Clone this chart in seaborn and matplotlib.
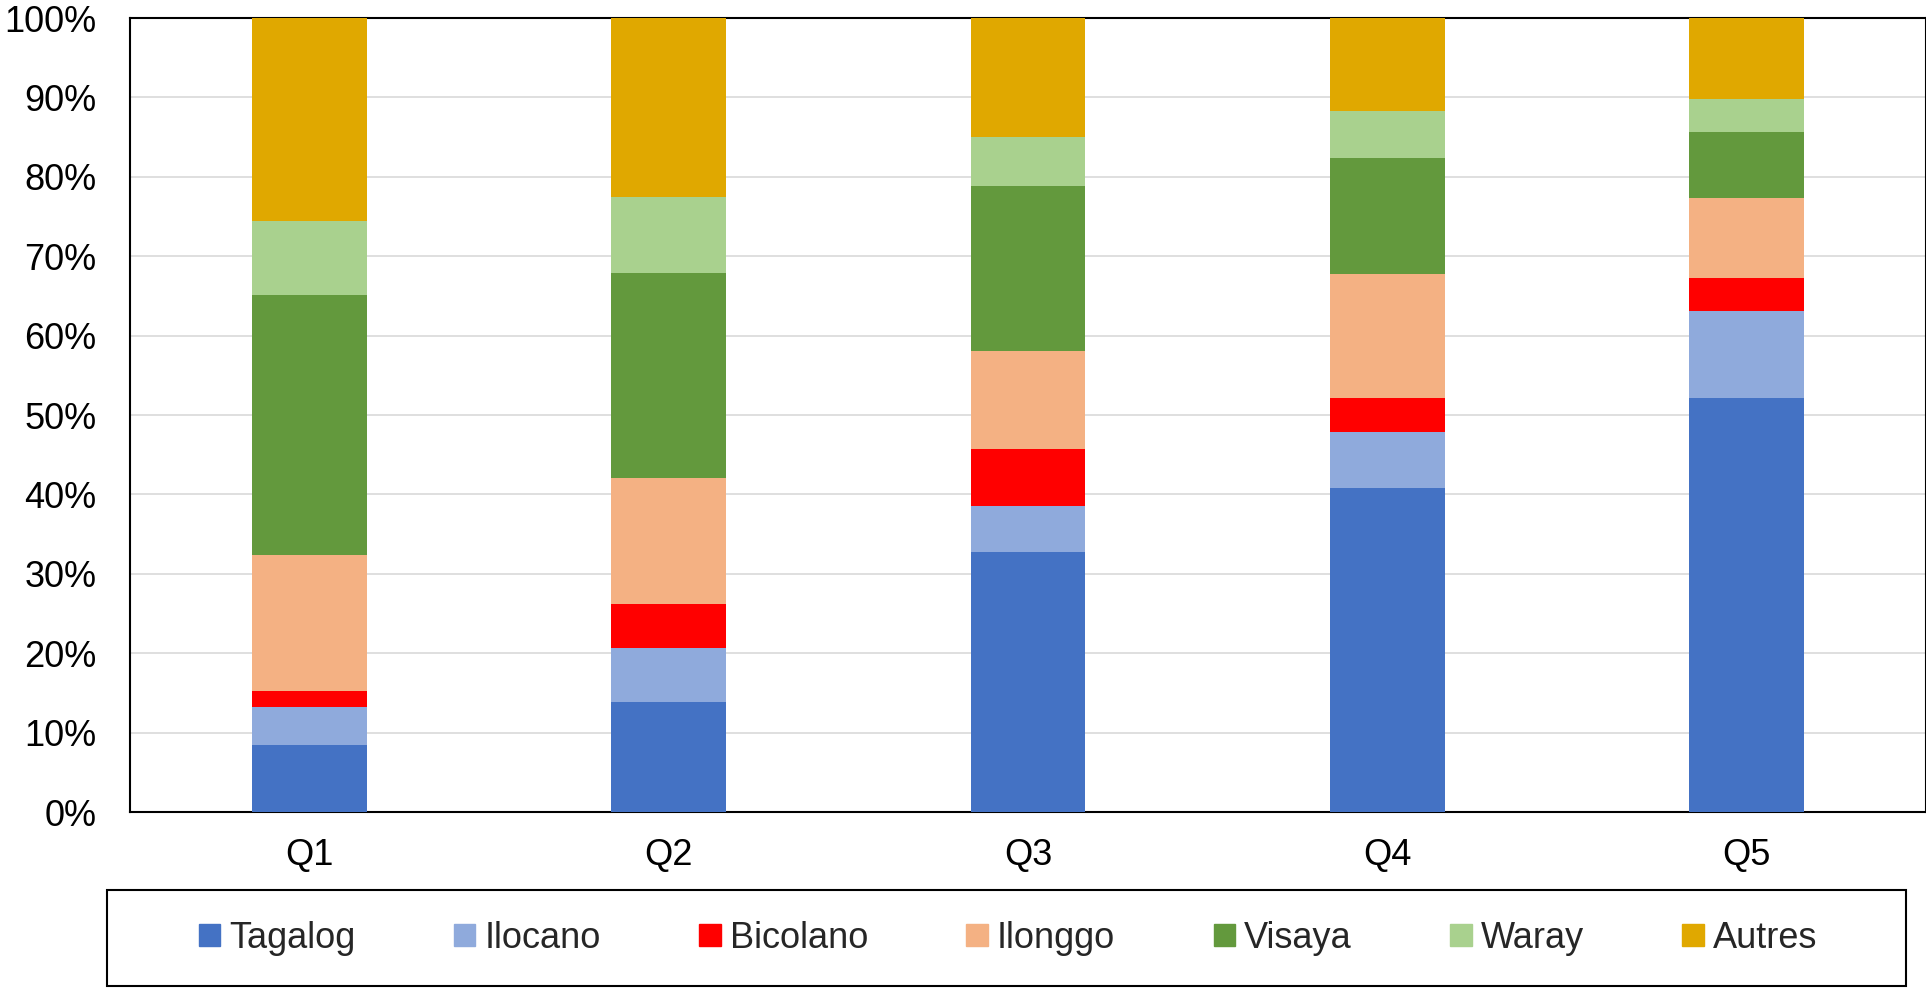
import matplotlib
matplotlib.use('Agg')
import matplotlib.pyplot as plt
import matplotlib.patches as mpatches
import numpy as np
import pandas as pd
import seaborn as sns

# data (percent of each quintile)
quintiles = ['Q1', 'Q2', 'Q3', 'Q4', 'Q5']
tagalog = [8.5, 13.8, 32.7, 40.8, 52.2]
ilocano = [4.7, 6.9, 5.8, 7.0, 10.9]
bicolano = [2.1, 5.5, 7.2, 4.4, 4.2]
ilonggo = [17.1, 15.9, 12.4, 15.5, 10.0]
visaya = [32.7, 25.8, 20.7, 14.7, 8.3]
waray = [9.3, 9.5, 6.2, 5.9, 4.2]
autres = [25.6, 22.6, 15.0, 11.7, 10.2]

series_names = ['Tagalog', 'Ilocano', 'Bicolano', 'Ilonggo', 'Visaya', 'Waray', 'Autres']
series_values = [tagalog, ilocano, bicolano, ilonggo, visaya, waray, autres]
colors = ['#4472c4', '#8faadc', '#ff0000', '#f4b183', '#63993d', '#a9d18e', '#e0a800']

sns.set_style('white')
plt.rcParams['font.family'] = ['Liberation Sans', 'DejaVu Sans']

W, H = 1926, 988
fig = plt.figure(figsize=(W / 100, H / 100), dpi=100)
ax = fig.add_axes([130 / W, 176 / H, 1796 / W, 794 / H])

bottom = np.zeros(len(quintiles))
for name, vals, col in zip(series_names, series_values, colors):
    df = pd.DataFrame({'q': quintiles, 'v': np.array(vals) / 100})
    sns.barplot(data=df, x='q', y='v', bottom=bottom, color=col, width=0.32,
                saturation=1, ax=ax, zorder=3, edgecolor='none')
    bottom = bottom + df['v'].values

ticks = np.arange(0, 1.01, 0.1)
ax.set_xlim(-0.5, 4.5)
ax.set_ylim(0, 1)
ax.set_yticks(ticks)
ax.set_yticklabels([f'{int(round(t * 100))}%' for t in ticks])
ax.yaxis.grid(True, color='#d9d9d9', linewidth=1.2, zorder=0)
ax.set_axisbelow(True)
ax.set_xlabel('')
ax.set_ylabel('')
ax.tick_params(axis='both', length=0, labelsize=26, colors='black')
ax.tick_params(axis='x', pad=19)
ax.tick_params(axis='y', pad=24)
for side in ['left', 'bottom', 'top', 'right']:
    ax.spines[side].set_color('black')
    ax.spines[side].set_linewidth(1.5)

# legend frame drawn separately, wider than the entries like the original
frame = mpatches.Rectangle((107 / W, 2 / H), 1799 / W, 96 / H, transform=fig.transFigure,
                           fill=False, edgecolor='black', linewidth=1.5)
fig.patches.append(frame)

handles = [mpatches.Patch(color=c, label=n) for n, c in zip(series_names, colors)]
fig.legend(handles=handles, ncol=7, loc='center',
           bbox_to_anchor=(1008 / W, (H - 938) / H),
           fontsize=26, frameon=False,
           handlelength=0.6, handleheight=0.55, handletextpad=0.25,
           columnspacing=2.72)

fig.savefig('out.png', dpi=100)
